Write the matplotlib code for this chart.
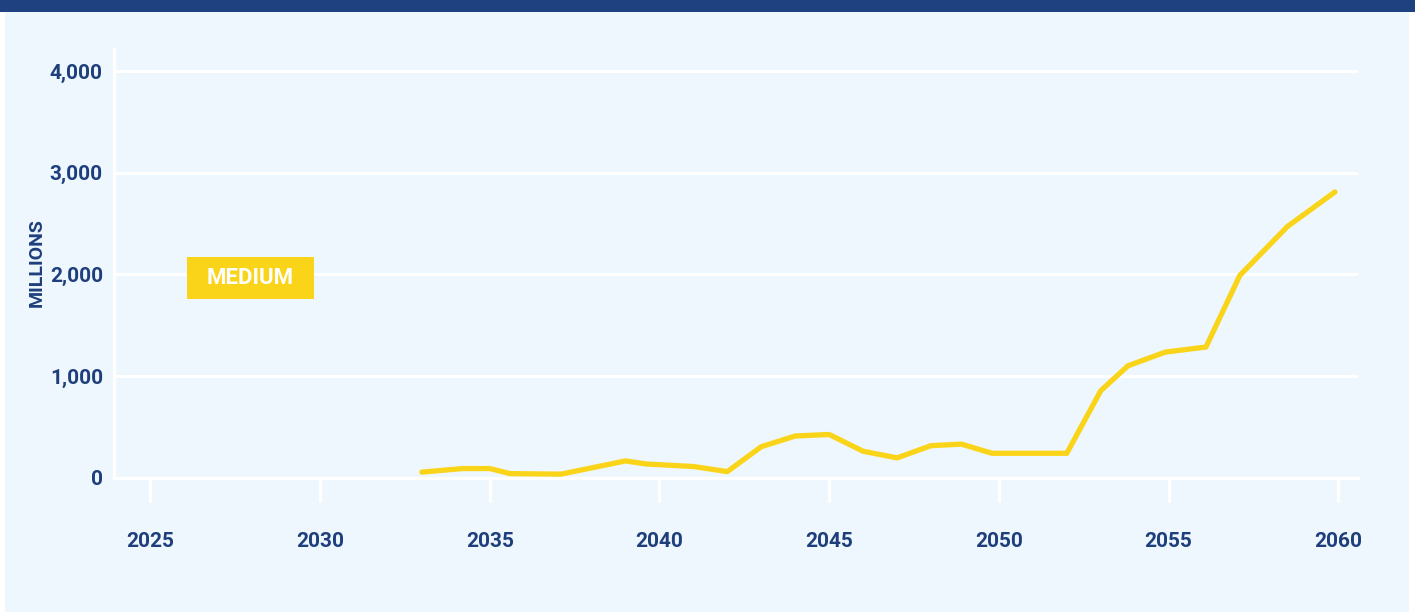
import matplotlib
matplotlib.use("Agg")
import matplotlib.pyplot as plt
from matplotlib.patches import Rectangle

# ---- data ----
years = [2033.0, 2034.2, 2035.0, 2035.6, 2037.1, 2039.0, 2039.6, 2041.0, 2042.0,
         2043.0, 2044.0, 2045.0, 2046.0, 2047.0, 2048.0, 2048.9, 2049.8, 2052.0,
         2053.0, 2053.8, 2054.9, 2056.1, 2057.1, 2058.5, 2059.9]
values = [55, 90, 90, 40, 35, 165, 135, 110, 60,
          305, 410, 425, 260, 195, 315, 330, 240, 240,
          855, 1100, 1235, 1285, 1990, 2470, 2810]
x_ticks = [2025, 2030, 2035, 2040, 2045, 2050, 2055, 2060]
y_ticks = [0, 1000, 2000, 3000, 4000]
y_tick_labels = ["0", "1,000", "2,000", "3,000", "4,000"]
series_label = "MEDIUM"
y_label = "MILLIONS"

plt.rcParams["font.family"] = ["Roboto", "DejaVu Sans"]
plt.rcParams["font.weight"] = "bold"

NAVY = "#1F3F7C"
BG = "#EEF7FD"
YELLOW = "#FAD419"

W, H = 1415, 614
fig = plt.figure(figsize=(W / 100, H / 100), dpi=100)
fig.patch.set_facecolor("white")

# background panel & top bar
fig.patches.append(Rectangle((5 / W, 2 / H), (1409 - 5) / W, (612 - 2) / H,
                             transform=fig.transFigure, facecolor=BG, edgecolor="none", zorder=0))
fig.patches.append(Rectangle((0, 1 - 12 / H), 1, 12 / H,
                             transform=fig.transFigure, facecolor="#1F4180", edgecolor="none", zorder=0))

left, right, top, bottom = 114 / W, 1358 / W, 1 - 49.3 / H, 1 - 477.7 / H
ax = fig.add_axes([left, bottom, right - left, top - bottom])
ax.set_facecolor("none")
ax.set_zorder(5)

ax.plot(years, values, color=YELLOW, lw=3.8, solid_capstyle="round",
        solid_joinstyle="round", zorder=3)

ax.set_xlim(2023.93, 2060.58)
ax.set_ylim(0, 4213)

ax.set_xticks(x_ticks)
ax.set_xticklabels([str(t) for t in x_ticks])
ax.set_yticks(y_ticks)
ax.set_yticklabels(y_tick_labels)

ax.grid(axis="y", color="white", lw=2.2, zorder=1)
ax.set_axisbelow(True)

for s in ["top", "right"]:
    ax.spines[s].set_visible(False)
for s in ["left", "bottom"]:
    ax.spines[s].set_color("white")
    ax.spines[s].set_linewidth(2.4)

ax.tick_params(axis="x", direction="out", length=17, width=2.4, color="white",
               pad=22, labelcolor=NAVY, labelsize=15)
ax.tick_params(axis="y", length=0, pad=8, labelcolor=NAVY, labelsize=15)
for lab in ax.get_xticklabels() + ax.get_yticklabels():
    lab.set_fontweight("bold")

fig.text(37 / W, 1 - 263 / H, y_label, rotation=90, ha="center", va="center",
         color=NAVY, fontsize=14, fontweight="bold")

# series label box (above the gridlines)
ax.add_patch(Rectangle((187 / W, 1 - 299 / H), 127 / W, 42 / H,
                       transform=fig.transFigure, facecolor=YELLOW, edgecolor="none",
                       zorder=4, clip_on=False))
ax.text(250.5 / W, 1 - 278 / H, series_label, transform=fig.transFigure,
        ha="center", va="center", color="white", fontsize=16, fontweight="bold", zorder=5)

fig.savefig("out.png", dpi=100, facecolor=fig.get_facecolor())
